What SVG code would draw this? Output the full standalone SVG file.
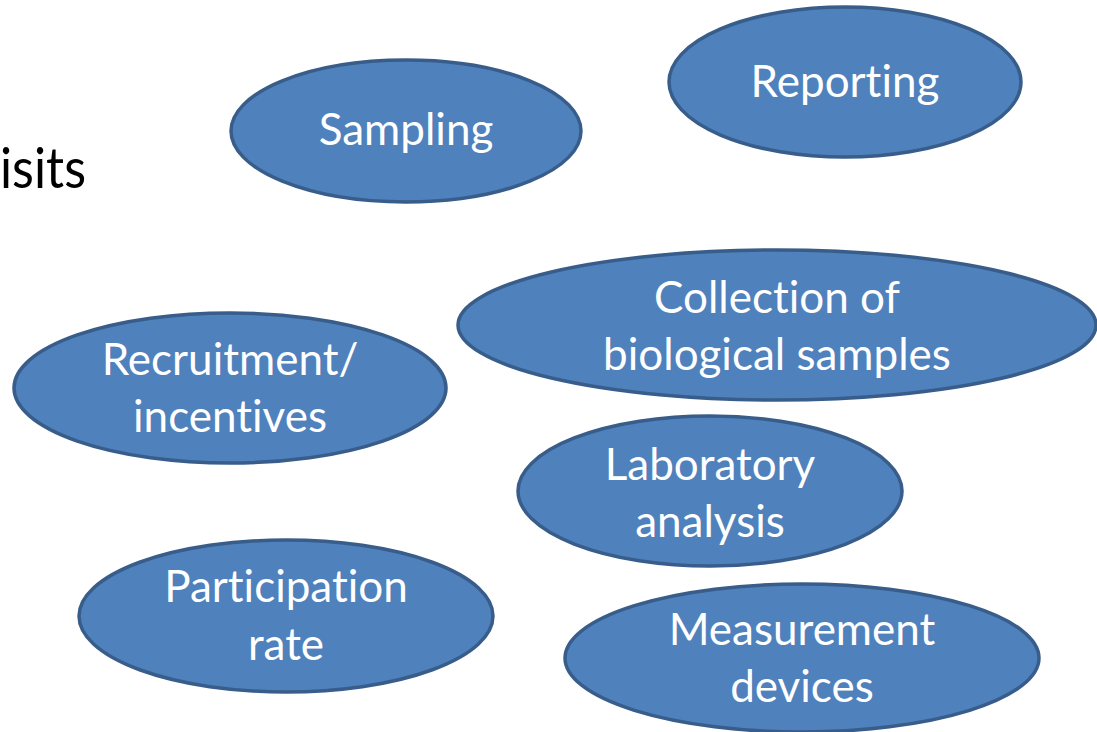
<svg xmlns="http://www.w3.org/2000/svg" width="1097" height="732" viewBox="0 0 1097 732">
<style>
.n ellipse{fill:#4F81BD;stroke:#385D8A;stroke-width:3.5}
.n text{fill:#FFFFFF;font-family:Lato,"Liberation Sans",sans-serif;font-size:44px;text-anchor:middle;font-variant-ligatures:none}
.t{fill:#000000;font-family:Lato,"Liberation Sans",sans-serif;font-size:57px;font-variant-ligatures:none}
</style>
<rect width="1097" height="732" fill="#FFFFFF"/>
<text class="t" x="0" y="188" textLength="86" lengthAdjust="spacingAndGlyphs">isits</text>
<g id="connectors"></g>
<g id="sampling" class="n"><ellipse cx="406" cy="131" rx="175" ry="71"/><text x="406" y="145">Sampling</text></g>
<g id="reporting" class="n"><ellipse cx="845" cy="82" rx="176" ry="75"/><text x="845" y="97">Reporting</text></g>
<g id="collection" class="n"><ellipse cx="777" cy="325" rx="319" ry="75"/><text x="777" y="313">Collection of</text><text x="777" y="370">biological samples</text></g>
<g id="recruitment" class="n"><ellipse cx="230" cy="388" rx="216" ry="75"/><text x="230" y="375">Recruitment/</text><text x="230" y="432">incentives</text></g>
<g id="laboratory" class="n"><ellipse cx="710" cy="491" rx="192" ry="75"/><text x="710" y="480">Laboratory</text><text x="710" y="537">analysis</text></g>
<g id="participation" class="n"><ellipse cx="286" cy="616" rx="207" ry="76"/><text x="286" y="602">Participation</text><text x="286" y="660">rate</text></g>
<g id="measurement" class="n"><ellipse cx="802" cy="658" rx="237" ry="74"/><text x="802" y="645">Measurement</text><text x="802" y="702">devices</text></g>
</svg>
